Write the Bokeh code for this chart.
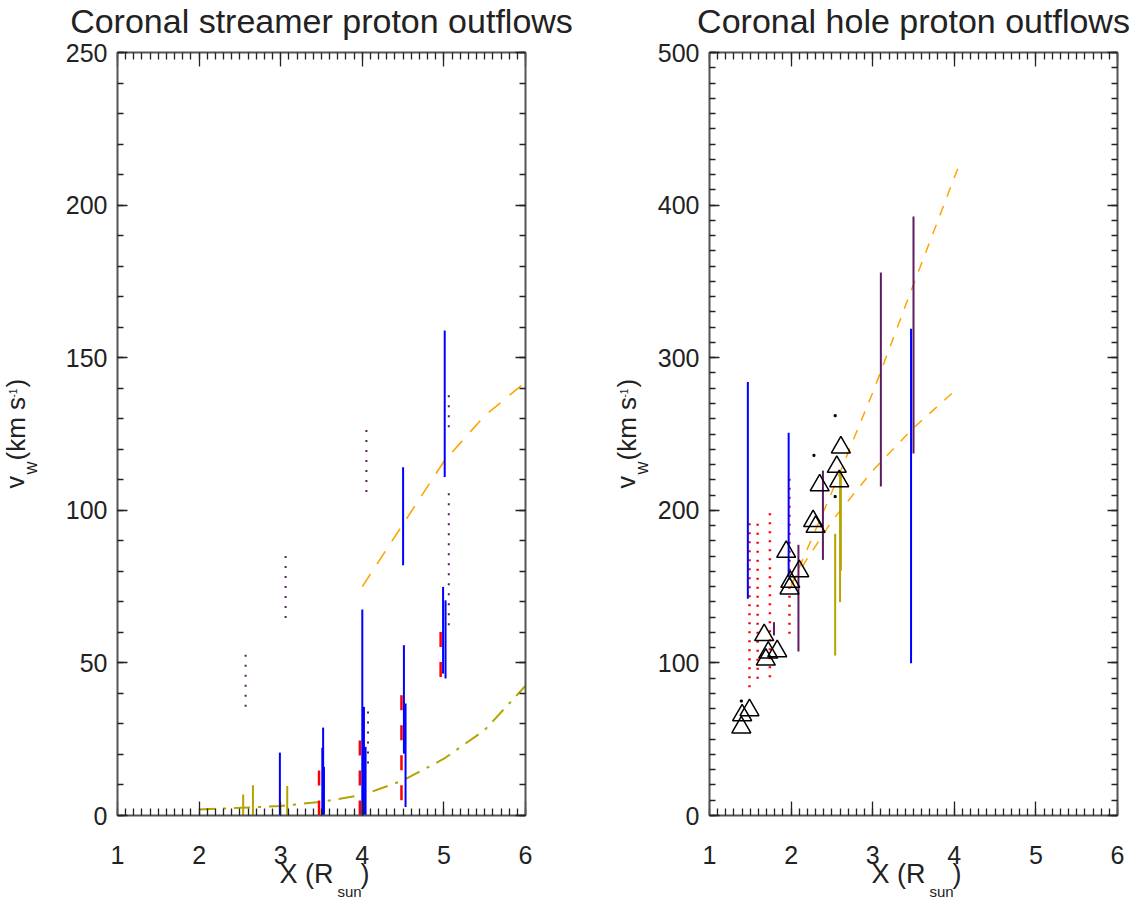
from bokeh.plotting import figure
from bokeh.models import Range1d, LinearAxis, SingleIntervalTicker, Label, CustomJSTickFormatter
from bokeh.layouts import row, column
from bokeh.embed import file_html
from bokeh.resources import INLINE

# ---------------- data : coronal streamer (left) ----------------
streamer_blue_x  = [2.99, 3.52, 3.51, 3.53, 4.00, 4.02, 4.04, 4.50, 4.51, 4.53, 5.01, 4.99, 5.02]
streamer_blue_lo = [0.0, 0.0, 0.0, 0.0, 0.0, 0.0, 0.0, 82.0, 20.3, 2.8, 110.9, 46.5, 44.9]
streamer_blue_hi = [20.6, 28.8, 22.2, 16.0, 67.5, 35.6, 22.5, 114.1, 55.8, 36.7, 158.9, 74.9, 70.5]

streamer_red_x  = [3.47, 3.97, 4.48, 4.96]
streamer_red_lo = [0.0, 0.0, 5.0, 45.4]
streamer_red_hi = [14.9, 24.7, 39.4, 60.1]

streamer_purple_x  = [2.57, 3.06, 4.05, 4.07, 5.06, 5.06]
streamer_purple_lo = [35.6, 64.7, 106.0, 17.0, 127.2, 62.3]
streamer_purple_hi = [53.6, 86.1, 127.2, 35.0, 138.7, 108.2]

streamer_olive_x  = [2.54, 2.66, 3.08]
streamer_olive_lo = [0.0, 0.0, 0.0]
streamer_olive_hi = [6.9, 9.9, 9.7]

streamer_model_x = [2.0, 2.5, 3.0, 3.5, 4.0, 4.5, 5.0, 5.5, 6.0]
streamer_model_v = [2.0, 2.5, 3.1, 4.5, 6.7, 11.5, 18.6, 28.0, 42.5]

streamer_fit_x = [4.0, 4.5, 5.0, 5.5, 6.0]
streamer_fit_v = [75.0, 95.5, 116.0, 131.0, 142.0]

# ---------------- data : coronal hole (right) ----------------
hole_blue_x  = [1.47, 1.97, 3.47]
hole_blue_lo = [142.0, 156.2, 99.8]
hole_blue_hi = [284.0, 250.8, 319.0]

hole_purple_x  = [1.79, 2.09, 2.39, 3.10, 3.50]
hole_purple_lo = [118.0, 107.5, 167.5, 215.6, 237.2]
hole_purple_hi = [126.7, 177.4, 226.0, 355.8, 392.5]

hole_olive_x  = [2.54, 2.60, 2.61]
hole_olive_lo = [104.8, 139.8, 160.5]
hole_olive_hi = [184.6, 225.0, 225.0]

hole_red_x  = [1.49, 1.59, 1.74, 1.98]
hole_red_lo = [84.1, 89.6, 90.6, 119.1]
hole_red_hi = [195.5, 194.4, 201.6, 223.3]

hole_tri_x = [1.39, 1.40, 1.49, 1.67, 1.69, 1.72, 1.83, 1.94, 2.10, 1.99, 1.98,
              2.27, 2.30, 2.35, 2.56, 2.59, 2.61]
hole_tri_v = [57.7, 65.7, 69.0, 118.2, 102.2, 106.8, 107.7, 172.8, 160.1, 153.1, 148.8,
              192.9, 189.2, 216.4, 228.5, 219.1, 241.2]

hole_dot_x = [1.39, 2.28, 2.54, 2.54]
hole_dot_v = [75.0, 236.0, 262.0, 209.0]

hole_fitA_x = [2.0, 2.5, 3.0, 3.5, 4.0, 4.08]
hole_fitA_v = [150.0, 212.0, 277.0, 348.0, 418.0, 429.0]
hole_fitB_x = [2.0, 2.5, 3.0, 3.5, 4.0, 4.05]
hole_fitB_v = [152.0, 193.0, 226.0, 254.0, 278.0, 280.0]

titles = ["Coronal streamer proton outflows", "Coronal hole proton outflows"]

FONT = "Liberation Sans"
TXT = "#222222"
BLUE = "#0000ff"
RED = "#ff0000"
PURPLE = "#5e1a63"
OLIVE = "#b4a400"
ORANGE = "#ffa500"


def make_fig(ymax, yint, yminor, bl, br):
    p = figure(width=569, height=915, x_range=Range1d(1, 6), y_range=Range1d(0, ymax),
               output_backend="svg", toolbar_location=None,
               min_border_left=bl, min_border_right=br,
               min_border_top=52, min_border_bottom=100)
    p.xgrid.visible = False
    p.ygrid.visible = False
    p.outline_line_color = None
    xt = SingleIntervalTicker(interval=1, num_minor_ticks=10)
    yt = SingleIntervalTicker(interval=yint, num_minor_ticks=yminor)
    bottom = p.xaxis[0]
    left = p.yaxis[0]
    bottom.ticker = xt
    left.ticker = yt
    top = LinearAxis(ticker=xt, formatter=CustomJSTickFormatter(code="return ''"))
    right = LinearAxis(ticker=yt, formatter=CustomJSTickFormatter(code="return ''"))
    p.add_layout(top, "above")
    p.add_layout(right, "right")
    for ax in (bottom, left, top, right):
        ax.axis_line_color = "#555555"
        ax.axis_line_width = 2
        ax.major_tick_line_color = "#222222"
        ax.minor_tick_line_color = "#222222"
        ax.major_tick_line_width = 1.3
        ax.minor_tick_line_width = 1.3
        ax.major_tick_out = 0
        ax.minor_tick_out = 0
        ax.major_label_text_font = FONT
        ax.major_label_text_font_size = "25px"
        ax.major_label_text_color = TXT
    for ax in (top, right):
        ax.major_label_text_font_size = "1px"
        ax.major_label_standoff = 0
    for ax in (bottom, top):
        ax.major_tick_in = 14
        ax.minor_tick_in = 7
    for ax in (left, right):
        ax.major_tick_in = 10
        ax.minor_tick_in = 6
    bottom.major_label_standoff = 30
    left.major_label_standoff = 10
    return p


# ---------------- left panel ----------------
p1 = make_fig(250, 50, 5, 117, 44)
p1.line(streamer_model_x, streamer_model_v, line_color=OLIVE, line_width=2, line_dash="16 8 3 8")
p1.line(streamer_fit_x, streamer_fit_v, line_color=ORANGE, line_width=1.6, line_dash="15 12")
p1.segment(x0=streamer_olive_x, y0=streamer_olive_lo, x1=streamer_olive_x, y1=streamer_olive_hi,
           line_color=OLIVE, line_width=2)
p1.segment(x0=streamer_purple_x, y0=streamer_purple_lo, x1=streamer_purple_x, y1=streamer_purple_hi,
           line_color=PURPLE, line_width=2, line_dash="2 8")
p1.segment(x0=streamer_red_x, y0=streamer_red_lo, x1=streamer_red_x, y1=streamer_red_hi,
           line_color=RED, line_width=2.5, line_dash="15 15")
p1.segment(x0=streamer_blue_x, y0=streamer_blue_lo, x1=streamer_blue_x, y1=streamer_blue_hi,
           line_color=BLUE, line_width=2)

# ---------------- right panel ----------------
p2 = make_fig(500, 100, 10, 140, 21)
p2.line(hole_fitA_x, hole_fitA_v, line_color=ORANGE, line_width=1.5, line_dash="10 10")
p2.line(hole_fitB_x, hole_fitB_v, line_color=ORANGE, line_width=1.5, line_dash="10 10")
p2.segment(x0=hole_red_x, y0=hole_red_lo, x1=hole_red_x, y1=hole_red_hi,
           line_color=RED, line_width=2.5, line_dash="2 7")
p2.segment(x0=hole_blue_x, y0=hole_blue_lo, x1=hole_blue_x, y1=hole_blue_hi,
           line_color=BLUE, line_width=2)
p2.segment(x0=hole_purple_x, y0=hole_purple_lo, x1=hole_purple_x, y1=hole_purple_hi,
           line_color=PURPLE, line_width=2)
p2.segment(x0=hole_olive_x, y0=hole_olive_lo, x1=hole_olive_x, y1=hole_olive_hi,
           line_color=OLIVE, line_width=2)
p2.scatter(hole_tri_x, hole_tri_v, marker="triangle", size=19, fill_color=None,
           line_color="black", line_width=1.5)
p2.scatter(hole_dot_x, hole_dot_v, marker="square", size=2, fill_color="black", line_color="black")

# ---------------- transparent overlay carrying titles and axis titles ----------------
ov = figure(width=1138, height=915, x_range=Range1d(0, 1138), y_range=Range1d(915, 0),
            output_backend="svg", toolbar_location=None,
            x_axis_location=None, y_axis_location=None, min_border=0,
            styles={"position": "absolute", "left": "0px", "top": "0px"})
ov.xgrid.visible = False
ov.ygrid.visible = False
ov.outline_line_color = None
ov.background_fill_color = None
ov.border_fill_color = None

K = 0.41  # baseline correction factor (fraction of the font size)


def lab(text, x, y, size, angle=0.0, align="left"):
    if angle == 0.0:
        y = y - K * size
    else:
        x = x - K * size
    ov.add_layout(Label(x=x, y=y, text=text, text_font=FONT, text_font_size=f"{size}px",
                        text_color=TXT, angle=angle, text_align=align,
                        text_baseline="alphabetic"))


A = 1.5707963
for dx, title in zip((0, 592), titles):
    lab(title, 321 + dx, 34, 34, align="center")
    lab("X (R", 279 + dx, 885, 27)
    lab("sun", 337 + dx, 897, 15)
    lab(")", 360 + dx, 885, 27)

for bx in (26, 637):
    lab("v", bx - 1, 488, 25, angle=A)
    lab("w", bx + 12, 474, 18, angle=A)
    lab("(km s", bx, 460, 26, angle=A)
    lab("-1", bx - 9, 397, 10, angle=A)
    lab(")", bx, 387, 26, angle=A)

layout = column(row(p1, p2, spacing=0), ov, spacing=0)
open("out.html", "w").write(file_html(layout, INLINE))
